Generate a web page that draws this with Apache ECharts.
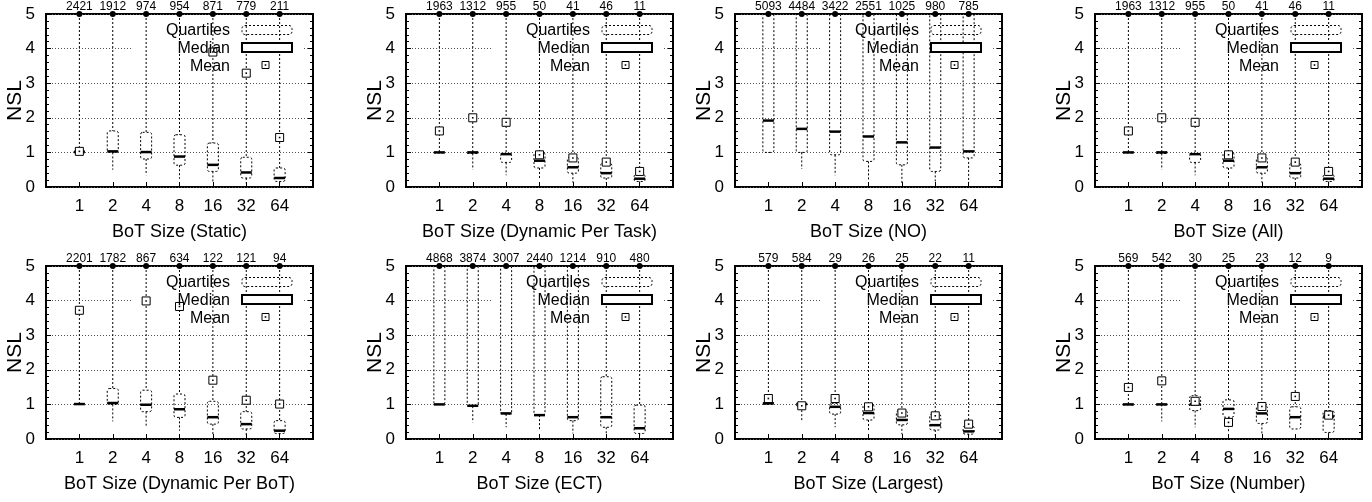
<!DOCTYPE html>
<html>
<head>
<meta charset="utf-8">
<script src="https://cdn.jsdelivr.net/npm/echarts@6/dist/echarts.min.js"></script>
<style>
html,body{margin:0;padding:0;background:#fff;}
#chart{width:1372px;height:502px;}
</style>
</head>
<body>
<div id="chart"></div>
<script>
// ---------- data ----------
const sizes = ['1', '2', '4', '8', '16', '32', '64'];
const yTicks = [0, 1, 2, 3, 4, 5];
const whiskerTop = [5, 5, 5, 5, 5, 5, 5];

const titleStatic = 'BoT Size (Static)';
const staticCount = [2421, 1912, 974, 954, 871, 779, 211];
const staticLo   = [1.0, 0.5, 0.34, 0.24, 0.13, 0.1, 0.07];
const staticQ1   = [1.0, 1.0, 0.81, 0.63, 0.45, 0.26, 0.16];
const staticMed  = [1.01, 1.03, 1.01, 0.88, 0.64, 0.42, 0.26];
const staticQ3   = [1.05, 1.62, 1.58, 1.51, 1.27, 0.86, 0.55];
const staticMean = [1.03, null, null, null, 3.9, 3.29, 1.43];

const titleTask = 'BoT Size (Dynamic Per Task)';
const taskCount = [1963, 1312, 955, 50, 41, 46, 11];
const taskLo   = [1.0, 0.5, 0.34, 0.21, 0.13, 0.12, 0.07];
const taskQ1   = [1.0, 0.97, 0.71, 0.55, 0.4, 0.26, 0.16];
const taskMed  = [1.0, 1.0, 0.95, 0.76, 0.57, 0.4, 0.24];
const taskQ3   = [1.0, 1.01, 0.96, 1.0, 0.86, 0.69, 0.36];
const taskMean = [1.62, 2.0, 1.87, 0.93, 0.84, 0.72, 0.45];

const titleNo = 'BoT Size (NO)';
const noCount = [5093, 4484, 3422, 2551, 1025, 980, 785];
const noLo   = [1.0, 0.52, 0.34, 0.21, 0.12, 0.12, 0.12];
const noQ1   = [1.0, 1.0, 0.93, 0.74, 0.64, 0.45, 0.84];
const noMed  = [1.92, 1.68, 1.6, 1.46, 1.29, 1.14, 1.03];
const noQ3   = [5, 5, 5, 5, 5, 5, 5];
const noMean = [null, null, null, null, null, null, null];

const titleAll = 'BoT Size (All)';
const allCount = [1963, 1312, 955, 50, 41, 46, 11];
const allLo   = [1.0, 0.5, 0.34, 0.21, 0.13, 0.12, 0.07];
const allQ1   = [1.0, 0.97, 0.71, 0.55, 0.4, 0.26, 0.16];
const allMed  = [1.0, 1.0, 0.95, 0.76, 0.57, 0.4, 0.24];
const allQ3   = [1.0, 1.01, 0.96, 1.0, 0.86, 0.69, 0.36];
const allMean = [1.62, 2.0, 1.87, 0.93, 0.84, 0.72, 0.45];

const titleBot = 'BoT Size (Dynamic Per BoT)';
const botCount = [2201, 1782, 867, 634, 122, 121, 94];
const botLo   = [1.0, 0.51, 0.34, 0.24, 0.14, 0.12, 0.08];
const botQ1   = [1.0, 1.0, 0.79, 0.625, 0.43, 0.29, 0.16];
const botMed  = [1.01, 1.04, 0.99, 0.86, 0.63, 0.43, 0.24];
const botQ3   = [1.02, 1.46, 1.41, 1.3, 1.09, 0.79, 0.53];
const botMean = [3.72, null, 3.99, 3.83, 1.7, 1.12, 1.01];

const titleEct = 'BoT Size (ECT)';
const ectCount = [4868, 3874, 3007, 2440, 1214, 910, 480];
const ectLo   = [1.0, 0.48, 0.34, 0.24, 0.16, 0.14, 0.1];
const ectQ1   = [1.0, 0.95, 0.72, 0.69, 0.53, 0.34, 0.16];
const ectMed  = [1.0, 0.96, 0.74, 0.69, 0.63, 0.63, 0.31];
const ectQ3   = [5, 5, 5, 5, 5, 1.8, 0.98];
const ectMean = [null, null, null, null, null, null, null];

const titleLargest = 'BoT Size (Largest)';
const largestCount = [579, 584, 29, 26, 25, 22, 11];
const largestLo   = [1.0, 0.51, 0.34, 0.24, 0.14, 0.1, 0.07];
const largestQ1   = [1.0, 0.95, 0.72, 0.55, 0.41, 0.26, 0.14];
const largestMed  = [1.03, 1.01, 0.93, 0.75, 0.55, 0.4, 0.22];
const largestQ3   = [1.05, 1.02, 1.03, 1.0, 0.82, 0.72, 0.38];
const largestMean = [1.17, 0.96, 1.17, 0.93, 0.75, 0.67, 0.43];

const titleNumber = 'BoT Size (Number)';
const numberCount = [569, 542, 30, 25, 23, 12, 9];
const numberLo   = [1.0, 0.51, 0.34, 0.19, 0.14, 0.29, 0.12];
const numberQ1   = [1.0, 1.0, 0.82, 0.63, 0.45, 0.29, 0.19];
const numberMed  = [1.0, 1.0, 1.0, 0.87, 0.74, 0.63, 0.65];
const numberQ3   = [1.0, 1.0, 1.25, 1.13, 0.96, 0.93, 0.82];
const numberMean = [1.49, 1.68, 1.09, 0.48, 0.94, 1.23, 0.69];

const legendLabels = ['Quartiles', 'Median', 'Mean'];
const yName = 'NSL';

// ---------- layout ----------
const FONT = 'Liberation Sans, Arial, Helvetica, sans-serif';
const lefts = [46, 406, 735, 1095];
const tops = [14, 266];
const W = 267, H = 173;

const panels = [
  [titleStatic, staticCount, staticLo, staticQ1, staticMed, staticQ3, staticMean],
  [titleTask, taskCount, taskLo, taskQ1, taskMed, taskQ3, taskMean],
  [titleNo, noCount, noLo, noQ1, noMed, noQ3, noMean],
  [titleAll, allCount, allLo, allQ1, allMed, allQ3, allMean],
  [titleBot, botCount, botLo, botQ1, botMed, botQ3, botMean],
  [titleEct, ectCount, ectLo, ectQ1, ectMed, ectQ3, ectMean],
  [titleLargest, largestCount, largestLo, largestQ1, largestMed, largestQ3, largestMean],
  [titleNumber, numberCount, numberLo, numberQ1, numberMed, numberQ3, numberMean]
];

const grids = [], xAxes = [], yAxes = [], series = [], graphics = [];

function renderBox(params, api) {
  const x = api.value(0);
  const lo = api.value(1), q1 = api.value(2), med = api.value(3), q3 = api.value(4), hi = api.value(5);
  const pHi = api.coord([x, hi]);
  const pQ3 = api.coord([x, q3]);
  const pQ1 = api.coord([x, q1]);
  const pLo = api.coord([x, lo]);
  const pMed = api.coord([x, med]);
  const w = api.size([0.33, 0])[0];
  const dashed = {stroke: '#000', lineWidth: 1, lineDash: [2, 2], fill: null};
  return {
    type: 'group',
    children: [
      {type: 'line', shape: {x1: pHi[0], y1: pHi[1], x2: pQ3[0], y2: pQ3[1]}, style: dashed},
      {type: 'line', shape: {x1: pQ1[0], y1: pQ1[1], x2: pLo[0], y2: pLo[1]}, style: dashed},
      {type: 'rect', shape: {x: pQ1[0] - w / 2, y: pQ3[1], width: w, height: Math.max(pQ1[1] - pQ3[1], 0.5), r: 2},
        style: {stroke: '#000', lineWidth: 1, lineDash: [2, 2], fill: null}},
      {type: 'line', shape: {x1: pMed[0] - w / 2, y1: pMed[1], x2: pMed[0] + w / 2, y2: pMed[1]},
        style: {stroke: '#000', lineWidth: 2.5}}
    ]
  };
}

panels.forEach((p, i) => {
  const [title, count, lo, q1, med, q3, mean] = p;
  const L = lefts[i % 4], T = tops[Math.floor(i / 4)];
  grids.push({left: L, top: T, width: W, height: H, show: true, borderColor: '#000', borderWidth: 2, backgroundColor: '#fff', containLabel: false});
  xAxes.push({
    type: 'value', gridIndex: i, min: 0, max: 8, interval: 1,
    name: title, nameLocation: 'middle', nameGap: 36,
    nameTextStyle: {fontFamily: FONT, fontSize: 18, color: '#000'},
    axisLine: {show: false},
    axisTick: {show: true, inside: true, length: 5, lineStyle: {color: '#000'}},
    axisLabel: {fontFamily: FONT, fontSize: 17, color: '#000', margin: 11,
      formatter: v => sizes[v - 1] || ''},
    splitLine: {show: false}
  });
  yAxes.push({
    type: 'value', gridIndex: i, min: yTicks[0], max: yTicks[yTicks.length - 1], interval: 1,
    name: yName, nameLocation: 'middle', nameGap: 20, nameRotate: 90, nameMoveOverlap: false,
    nameTextStyle: {fontFamily: FONT, fontSize: 21, color: '#000'},
    axisLine: {show: false},
    axisTick: {show: true, inside: true, length: 5, lineStyle: {color: '#000'}},
    minorTick: {show: true, splitNumber: 5, length: 3, lineStyle: {color: '#000'}},
    axisLabel: {fontFamily: FONT, fontSize: 17, color: '#000', margin: 11},
    splitLine: {show: true, lineStyle: {color: '#555', type: [1, 2], width: 1}}
  });
  yAxes.push({
    type: 'value', gridIndex: i, min: yTicks[0], max: yTicks[yTicks.length - 1], interval: 1, position: 'right',
    axisLine: {show: false},
    axisTick: {show: true, inside: true, length: 5, lineStyle: {color: '#000'}},
    minorTick: {show: true, splitNumber: 5, length: 3, lineStyle: {color: '#000'}},
    axisLabel: {show: false},
    splitLine: {show: false}
  });

  const boxes = sizes.map((s, k) => [k + 1, lo[k], q1[k], med[k], q3[k], whiskerTop[k]]);
  series.push({
    type: 'custom', xAxisIndex: i, yAxisIndex: 2 * i, renderItem: renderBox, data: boxes, z: 3, clip: true, silent: true
  });
  const means = [];
  mean.forEach((m, k) => { if (m !== null) means.push([k + 1, m]); });
  series.push({
    type: 'scatter', xAxisIndex: i, yAxisIndex: 2 * i, data: means, symbol: 'rect', symbolSize: 8,
    itemStyle: {color: '#fff', borderColor: '#000', borderWidth: 1, opacity: 1}, z: 5, silent: true
  });
  series.push({
    type: 'scatter', xAxisIndex: i, yAxisIndex: 2 * i, data: means, symbol: 'rect', symbolSize: 1.6,
    itemStyle: {color: '#000', opacity: 1}, z: 6, silent: true
  });
  series.push({
    type: 'scatter', xAxisIndex: i, yAxisIndex: 2 * i, clip: false,
    data: sizes.map((s, k) => [k + 1, whiskerTop[k], count[k]]),
    symbol: 'circle', symbolSize: 6, itemStyle: {color: '#000', opacity: 1}, z: 6, silent: true,
    label: {show: true, position: 'top', distance: -2, fontFamily: FONT, fontSize: 12, color: '#000',
      formatter: pp => String(pp.value[2])}
  });

  // key (legend) drawn in the plot, gnuplot style
  graphics.push({
    type: 'group', x: L, y: T, children: [
      {type: 'rect', z: 1, shape: {x: 86, y: 4, width: 170, height: 57}, style: {fill: '#fff', stroke: null}},
      {type: 'text', z: 10, style: {x: 184, y: 16.7, text: legendLabels[0], align: 'right', verticalAlign: 'middle', font: '16px ' + FONT, fill: '#000'}},
      {type: 'rect', z: 10, shape: {x: 196, y: 11.5, width: 50, height: 9, r: 3}, style: {fill: null, stroke: '#000', lineWidth: 1, lineDash: [2, 2]}},
      {type: 'text', z: 10, style: {x: 184, y: 35, text: legendLabels[1], align: 'right', verticalAlign: 'middle', font: '16px ' + FONT, fill: '#000'}},
      {type: 'rect', z: 10, shape: {x: 196, y: 29, width: 50, height: 9}, style: {fill: '#fff', stroke: '#000', lineWidth: 2}},
      {type: 'text', z: 10, style: {x: 184, y: 52.7, text: legendLabels[2], align: 'right', verticalAlign: 'middle', font: '16px ' + FONT, fill: '#000'}},
      {type: 'rect', z: 10, shape: {x: 216, y: 47.5, width: 7, height: 7}, style: {fill: '#fff', stroke: '#000', lineWidth: 1}},
      {type: 'rect', z: 11, shape: {x: 218.7, y: 50.2, width: 1.6, height: 1.6}, style: {fill: '#000', stroke: null}}
    ]
  });
});

const chart = echarts.init(document.getElementById('chart'), null, {renderer: 'canvas'});
chart.setOption({
  animation: false,
  backgroundColor: '#fff',
  textStyle: {fontFamily: FONT},
  grid: grids,
  xAxis: xAxes,
  yAxis: yAxes,
  series: series,
  graphic: graphics
});
</script>
</body>
</html>
